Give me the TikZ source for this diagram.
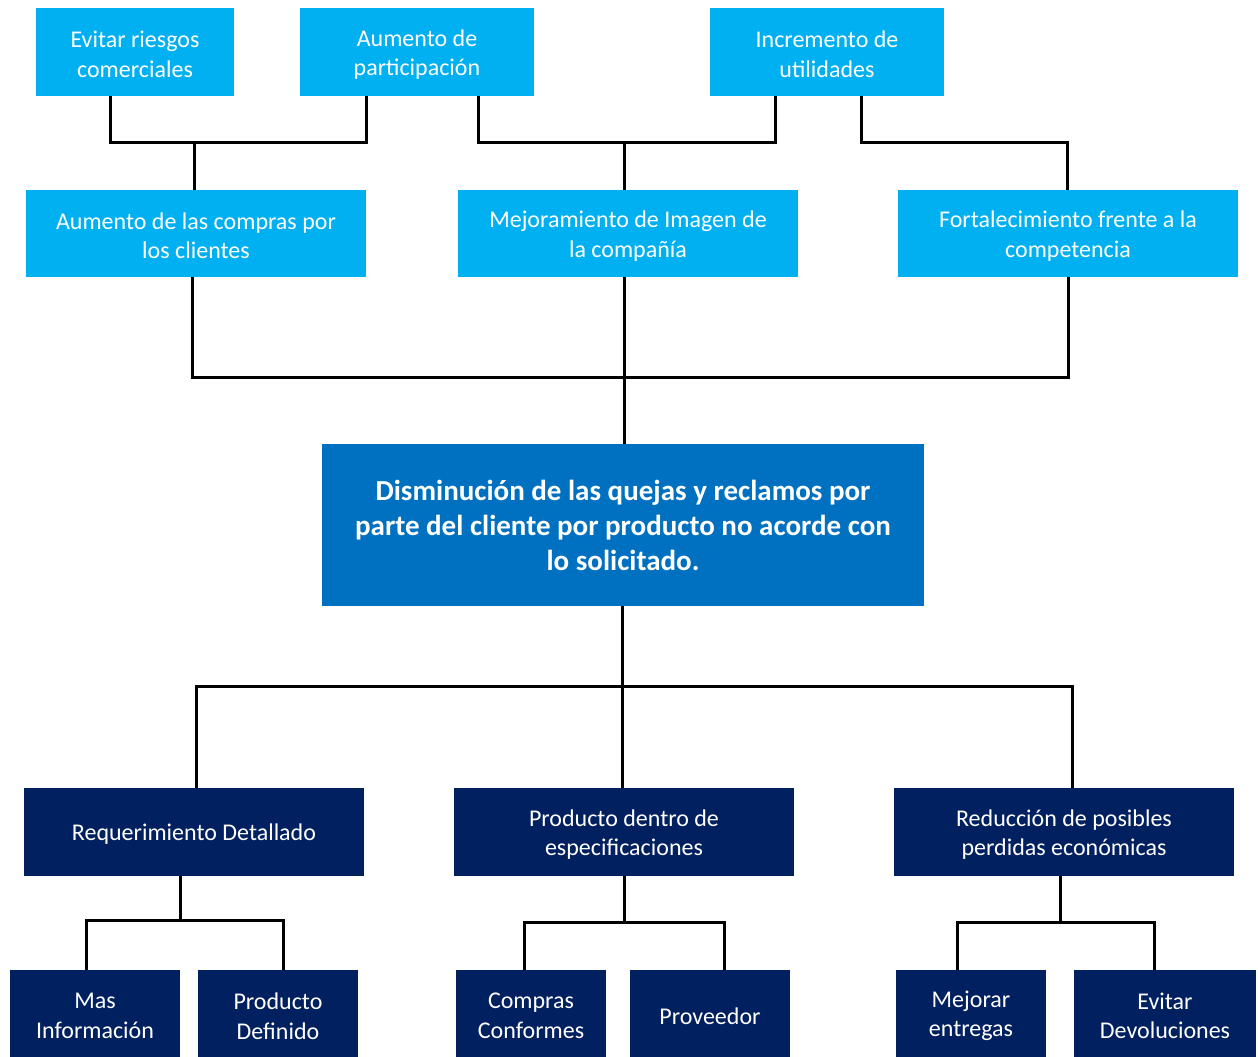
\documentclass[tikz,border=0pt]{standalone}
\usepackage{fontspec}
\setmainfont{Carlito}
\definecolor{lblue}{HTML}{00B0F0}
\definecolor{mblue}{HTML}{0070C0}
\definecolor{navy}{HTML}{002060}
\begin{document}
\begin{tikzpicture}[x=1pt,y=-1pt,
  txt/.style={inner sep=0pt,align=center,text=white,font=\fontsize{24}{29.5}\selectfont,yshift=-2.5pt},
  boxbase/.style={inner sep=0pt},
  lbox/.style={boxbase,fill=lblue},
  nbox/.style={boxbase,fill=navy},
  mainbox/.style={inner sep=0pt,align=center,text=white,fill=mblue,font=\fontsize{29}{35}\selectfont\bfseries},
  conn/.style={draw=black,line width=3pt}]
\useasboundingbox (0,0) rectangle (1258,1057);
% top row
\node[lbox,minimum width=198pt,minimum height=88pt,label={[txt]center:{Evitar riesgos\\comerciales}}] (t1) at (135,52) {};
\node[lbox,minimum width=234pt,minimum height=88pt,label={[txt]center:{Aumento de\\participación}}] (t2) at (417,52) {};
\node[lbox,minimum width=234pt,minimum height=88pt,label={[txt]center:{Incremento de\\utilidades}}] (t3) at (827,52) {};
% second row
\node[lbox,minimum width=340pt,minimum height=87pt,label={[txt]center:{Aumento de las compras por\\los clientes}}] (m1) at (196,233.5) {};
\node[lbox,minimum width=340pt,minimum height=87pt,label={[txt]center:{Mejoramiento de Imagen de\\la compañía}}] (m2) at (628,233.5) {};
\node[lbox,minimum width=340pt,minimum height=87pt,label={[txt]center:{Fortalecimiento frente a la\\competencia}}] (m3) at (1068,233.5) {};
% main
\node[mainbox,minimum width=602pt,minimum height=162pt] (main) at (623,525) {Disminución de las quejas y reclamos por\\parte del cliente por producto no acorde con\\lo solicitado.};
% third row
\node[nbox,minimum width=340pt,minimum height=88pt,label={[txt]center:{Requerimiento Detallado}}] (r1) at (194,832) {};
\node[nbox,minimum width=340pt,minimum height=88pt,label={[txt]center:{Producto dentro de\\especificaciones}}] (r2) at (624,832) {};
\node[nbox,minimum width=340pt,minimum height=88pt,label={[txt]center:{Reducción de posibles\\perdidas económicas}}] (r3) at (1064,832) {};
% bottom row
\node[nbox,minimum width=170pt,minimum height=87pt,label={[txt]center:{Mas\\Información}}] (b1) at (95,1013.5) {};
\node[nbox,minimum width=160pt,minimum height=87pt,label={[txt]center:{Producto\\Definido}}] (b2) at (278,1013.5) {};
\node[nbox,minimum width=150pt,minimum height=87pt,label={[txt]center:{Compras\\Conformes}}] (b3) at (531,1013.5) {};
\node[nbox,minimum width=160pt,minimum height=87pt,label={[txt]center:{Proveedor}}] (b4) at (710,1013.5) {};
\node[nbox,minimum width=150pt,minimum height=87pt,label={[txt]center:{Mejorar\\entregas}}] (b5) at (971,1013.5) {};
\node[nbox,minimum width=182pt,minimum height=87pt,label={[txt]center:{Evitar\\Devoluciones}}] (b6) at (1165,1013.5) {};
% junctions
\coordinate (j1) at (194,142);
\coordinate (j2) at (624,142);
\coordinate (j3) at (1067,142);
\coordinate (k) at (624,377);
\coordinate (q) at (622,686);
\coordinate (s1) at (180,920);
\coordinate (s2) at (624,922);
\coordinate (s3) at (1060,922);
% top connectors
\draw[conn] ([xshift=-25pt]t1.south) |- (j1) -| ([xshift=-51pt]t2.south);
\draw[conn] (j1) -- (j1 |- m1.north);
\draw[conn] ([xshift=61pt]t2.south) |- (j2) -| ([xshift=-52pt]t3.south);
\draw[conn] (j2) -- (j2 |- m2.north);
\draw[conn] ([xshift=34pt]t3.south) |- (j3) -- (j3 |- m3.north);
% middle
\draw[conn] ([xshift=-4pt]m1.south) |- (k) -| (m3.south);
\draw[conn] (k |- m2.south) -- (k |- main.north);
% below main
\draw[conn] (q |- main.south) -- (q);
\draw[conn] ([xshift=2pt]r1.north) |- (q) -| ([xshift=8pt]r3.north);
\draw[conn] (q) -- (q |- r2.north);
% third to bottom
\draw[conn] (s1 |- r1.south) -- (s1);
\draw[conn] ([xshift=-9pt]b1.north) |- (s1) -| ([xshift=5pt]b2.north);
\draw[conn] (s2 |- r2.south) -- (s2);
\draw[conn] ([xshift=-7pt]b3.north) |- (s2) -| ([xshift=14pt]b4.north);
\draw[conn] (s3 |- r3.south) -- (s3);
\draw[conn] ([xshift=-14pt]b5.north) |- (s3) -| ([xshift=-11pt]b6.north);
\end{tikzpicture}
\end{document}
